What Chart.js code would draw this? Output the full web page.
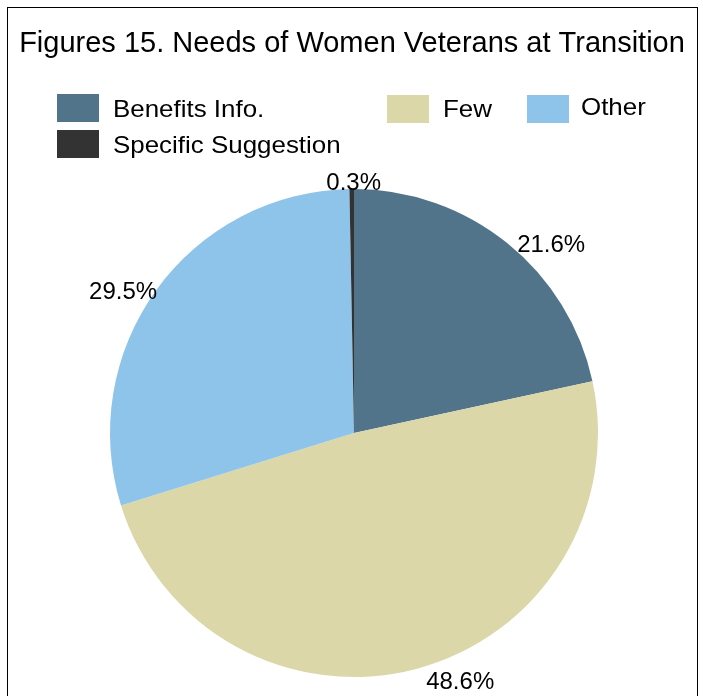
<!DOCTYPE html>
<html>
<head>
<meta charset="utf-8">
<script src="https://cdn.jsdelivr.net/npm/chart.js@4.4.0/dist/chart.umd.min.js"></script>
<style>
    html, body { margin: 0; padding: 0; background: #fff; overflow: hidden; }
    #wrap { position: relative; width: 703px; height: 696px; }
    #frame {
        position: absolute; left: 7px; top: 7px; width: 691px; height: 720px;
        border: 1px solid #000; box-sizing: border-box; pointer-events: none;
    }
    canvas { position: absolute; left: 0; top: 0; }
</style>
</head>
<body>
<div id="wrap">
    <canvas id="pie" width="703" height="696"></canvas>
    <div id="frame"></div>
</div>
<script>
// Chart data
const TITLE = 'Figures 15. Needs of Women Veterans at Transition';
const categories = ['Benefits Info.', 'Few', 'Other', 'Specific Suggestion'];
const shares = [21.6, 48.6, 29.5, 0.3];
const sliceColors = ['#51748b', '#dbd7a9', '#8fc4ea', '#333333'];

const FONT = '"Liberation Sans", Arial, sans-serif';

// text drawn slightly widened, the source renders a bit wide
function wideText(ctx, txt, x, y, sx) {
    ctx.save();
    ctx.translate(x, y);
    ctx.scale(sx, 1);
    ctx.fillText(txt, 0, 0);
    ctx.restore();
}

// Title + legend, laid out like the spreadsheet export
const headerPlugin = {
    id: 'header',
    afterDraw(chart) {
        const ctx = chart.ctx;
        ctx.save();
        ctx.fillStyle = '#000';
        ctx.textBaseline = 'alphabetic';
        ctx.font = '29px ' + FONT;
        ctx.textAlign = 'center';
        ctx.fillText(TITLE, 352, 52);

        // legend slots (box left, box top, text left, text baseline)
        const slots = [[57, 94, 113, 117], [387, 95, 443, 117], [527, 95, 581, 115], [57, 130, 113, 153]];
        ctx.font = '24px ' + FONT;
        ctx.textAlign = 'left';
        categories.forEach((name, i) => {
            const [bx, by, tx, ty] = slots[i];
            ctx.fillStyle = sliceColors[i];
            ctx.fillRect(bx, by, 42, 28);
            ctx.fillStyle = '#000';
            wideText(ctx, name, tx, ty, 1.08);
        });
        ctx.restore();
    }
};

// Percent labels placed just outside each slice's mid point
const labelPlugin = {
    id: 'pctLabels',
    afterDatasetsDraw(chart) {
        const ctx = chart.ctx;
        const meta = chart.getDatasetMeta(0);
        ctx.save();
        ctx.font = '24px ' + FONT;
        ctx.fillStyle = '#000';
        ctx.textBaseline = 'alphabetic';
        meta.data.forEach((arc, i) => {
            const p = arc.getProps(['x', 'y', 'startAngle', 'endAngle', 'outerRadius'], true);
            const mid = (p.startAngle + p.endAngle) / 2;
            const ux = Math.cos(mid), uy = Math.sin(mid);
            const px = p.x + p.outerRadius * ux;
            const py = p.y + p.outerRadius * uy;
            const txt = shares[i].toFixed(1) + '%';

            let x = px, y;
            if (ux > 0.2) { ctx.textAlign = 'left'; x = px + 10; }
            else if (ux < -0.2) { ctx.textAlign = 'right'; x = px + 1; }
            else { ctx.textAlign = 'center'; x = px + 2; }

            if (uy > 0.9) y = py + 20;
            else if (uy < -0.9) y = py + 1;
            else y = py + 9;

            ctx.fillText(txt, x, y);
        });
        ctx.restore();
    }
};

new Chart(document.getElementById('pie'), {
    type: 'pie',
    data: {
        labels: categories,
        datasets: [{
            data: shares,
            backgroundColor: sliceColors,
            borderWidth: 0
        }]
    },
    options: {
        responsive: false,
        animation: false,
        layout: { padding: { top: 189, bottom: 19, left: 110, right: 105 } },
        plugins: {
            legend: { display: false },
            title: { display: false },
            tooltip: { enabled: false }
        }
    },
    plugins: [headerPlugin, labelPlugin]
});
</script>
</body>
</html>
